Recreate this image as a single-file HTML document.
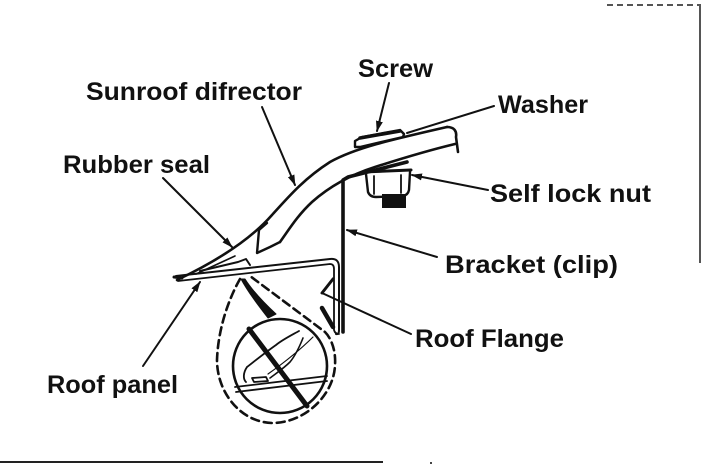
<!DOCTYPE html>
<html>
<head>
<meta charset="utf-8">
<style>
html,body{margin:0;padding:0;background:#fff;}
body{width:702px;height:468px;overflow:hidden;}
svg{display:block;}
text{font-family:"Liberation Sans",Arial,sans-serif;font-weight:bold;font-size:25px;fill:#111;}
</style>
</head>
<body>
<svg width="702" height="468" viewBox="0 0 702 468" xmlns="http://www.w3.org/2000/svg">
<defs>
<marker id="ah" markerUnits="userSpaceOnUse" markerWidth="11" markerHeight="7" refX="10" refY="3.5" orient="auto" viewBox="0 0 11 7">
<path d="M0,0 L11,3.5 L0,7 z" fill="#111"/>
</marker>
</defs>
<rect width="702" height="468" fill="#fff"/>

<!-- borders -->
<line x1="0" y1="462" x2="383" y2="462" stroke="#222" stroke-width="2"/>
<rect x="430" y="462" width="2" height="2" fill="#444"/>
<line x1="700" y1="4" x2="700" y2="263" stroke="#555" stroke-width="2"/>
<line x1="607" y1="5" x2="700" y2="5" stroke="#555" stroke-width="2" stroke-dasharray="6 4"/>

<!-- labels -->
<text x="86" y="100" textLength="216" lengthAdjust="spacingAndGlyphs">Sunroof difrector</text>
<text x="63" y="173" textLength="147" lengthAdjust="spacingAndGlyphs">Rubber seal</text>
<text x="358" y="77" textLength="75" lengthAdjust="spacingAndGlyphs">Screw</text>
<text x="498" y="113" textLength="90" lengthAdjust="spacingAndGlyphs">Washer</text>
<text x="490" y="202" textLength="161" lengthAdjust="spacingAndGlyphs">Self lock nut</text>
<text x="445" y="273" textLength="173" lengthAdjust="spacingAndGlyphs">Bracket (clip)</text>
<text x="415" y="347" textLength="149" lengthAdjust="spacingAndGlyphs">Roof Flange</text>
<text x="47" y="393" textLength="131" lengthAdjust="spacingAndGlyphs">Roof panel</text>

<g fill="none" stroke="#111" stroke-linecap="round" stroke-linejoin="round">
<!-- leaders -->
<line x1="262" y1="107" x2="295" y2="185" stroke-width="2" marker-end="url(#ah)"/>
<line x1="163" y1="178" x2="232" y2="247" stroke-width="2" marker-end="url(#ah)"/>
<line x1="389" y1="83" x2="377" y2="131" stroke-width="2" marker-end="url(#ah)"/>
<line x1="494" y1="106" x2="407" y2="133" stroke-width="2"/>
<line x1="488" y1="190" x2="412" y2="175" stroke-width="2" marker-end="url(#ah)"/>
<line x1="437" y1="257" x2="347" y2="230" stroke-width="2" marker-end="url(#ah)"/>
<line x1="411" y1="334" x2="322" y2="293" stroke-width="2"/>
<line x1="322" y1="293" x2="333" y2="279" stroke-width="3"/>
<line x1="143" y1="366" x2="200" y2="282" stroke-width="2" marker-end="url(#ah)"/>

<!-- deflector -->
<path d="M177,280 C215,262 250,240 272,215 C290,195 305,178 330,162 C355,148 390,140 447,127" stroke-width="2.6"/>
<path d="M447,127 C454,127 457,131 456,137 L458,152" stroke-width="2.6"/>
<path d="M280,242 C290,228 298,215 312,202 C330,186 350,175 375,167 C400,159 430,150 455,144" stroke-width="2.6"/>
<path d="M267,223 L259,230 L257,253 L270,247 L280,242" stroke-width="2.4"/>
<path d="M200,271 L238,262 L246,259 L250,265" stroke-width="2"/>
<path d="M196,274 L235,256" stroke-width="1.6"/>

<!-- screw head / washer -->
<path d="M355,147 L355,141 L362,137 L400,130 L404,134 L403,137 L360,147 Z" fill="#fff" stroke-width="2.4"/>
<path d="M360,138 L400,131" stroke-width="3.5"/>

<!-- bracket -->
<path d="M343,332 L343,180 L348,177 L407,162" stroke-width="3.6"/>

<!-- nut -->
<path d="M363,172 L411,170" stroke-width="3"/>
<path d="M366,174 L368,192 Q370,197 376,197 L403,196 Q408,195 409,190 L410,172" fill="#fff" stroke-width="2.4"/>
<line x1="374" y1="176" x2="374" y2="194" stroke-width="1.8"/>
<line x1="401" y1="175" x2="401" y2="193" stroke-width="1.8"/>
<rect x="382" y="194" width="24" height="14" fill="#111" stroke="none"/>

<!-- roof panel + flange -->
<path d="M176,276 L330,259 Q339,258 339,267 L339,330 Q339,335 336,334" stroke-width="2"/>
<path d="M178,281 L330,264 Q334,264 334,269 L334,330 Q335,334 339,334" stroke-width="1.8"/>
<path d="M174,277 L182,278" stroke-width="3"/>
<line x1="322" y1="308" x2="333" y2="327" stroke-width="4.5"/>

<!-- inset -->
<path d="M240,279 C228,300 218,330 217,360 C217,392 240,422 272,423 C305,423 334,395 335,365 C336,350 331,338 325,332 L250,276" stroke-width="2.6" stroke-dasharray="8 5"/>
<path d="M241,279 L245,279 C252,290 262,301 276,314 L268,318 C258,305 248,292 241,279 Z" fill="#111" stroke-width="1"/>
<circle cx="280" cy="366" r="47" stroke-width="2.6"/>
<line x1="249" y1="329" x2="307" y2="406" stroke-width="5"/>
<path d="M299,331 C290,336 282,340 276,345 C266,352 256,360 247,367 C243,373 243,379 246,382" stroke-width="1.8"/>
<path d="M303,338 C299,348 295,356 290,362 C284,368 278,372 270,378" stroke-width="1.6"/>
<path d="M313,337 C300,350 285,362 268,374" stroke-width="1.2"/>
<path d="M252,378 L266,377 L268,381 L254,382 Z" stroke-width="1.8"/>
<path d="M235,387 L327,376" stroke-width="1.8"/>
<path d="M236,392 L327,381" stroke-width="1.8"/>
</g>
</svg>
</body>
</html>
